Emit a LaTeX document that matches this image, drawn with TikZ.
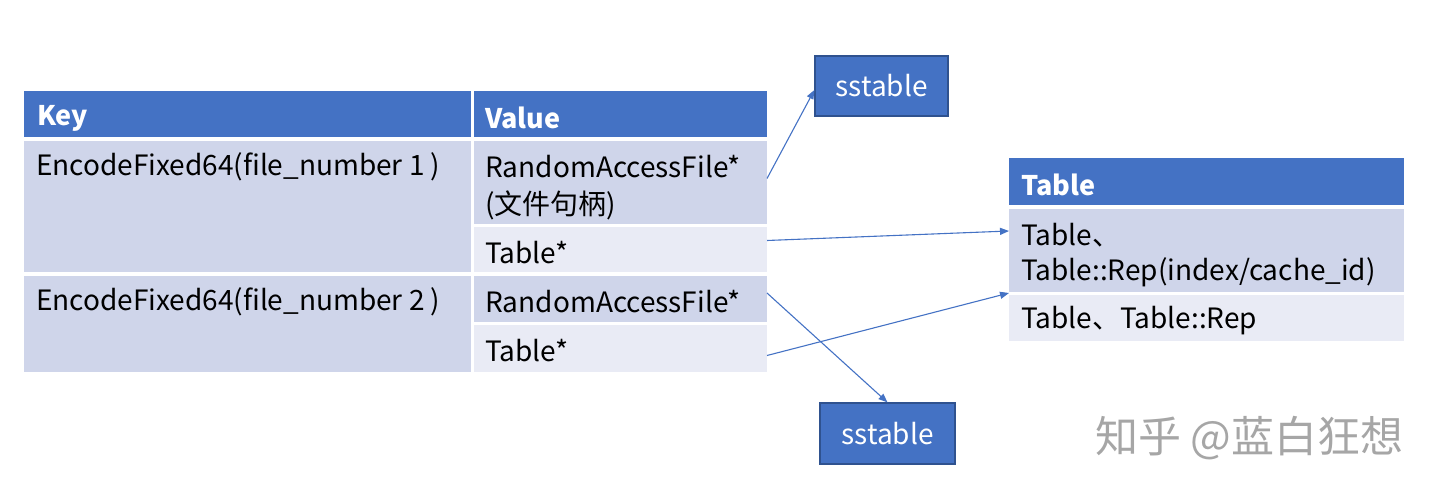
\documentclass[tikz,border=0pt]{standalone}
\usepackage{fontspec}
\setmainfont{Noto Sans CJK SC}
\usetikzlibrary{arrows.meta}
\definecolor{hdr}{HTML}{4472C4}
\definecolor{hdrdark}{HTML}{2F528F}
\definecolor{rowdark}{HTML}{CFD5EA}
\definecolor{rowlight}{HTML}{E9EBF5}
\definecolor{wm}{HTML}{A6A6A6}
\tikzset{
  cell/.style={anchor=north west, inner sep=0pt, outer sep=0pt, draw=none},
  hcell/.style={cell, fill=hdr},
  dcell/.style={cell, fill=rowdark},
  lcell/.style={cell, fill=rowlight},
  txt/.style={anchor=west, inner sep=0pt, yshift=-2pt, font=\fontsize{28}{32}\selectfont, text=black},
  htxt/.style={txt, text=white, font=\fontsize{27}{32}\selectfont\bfseries},
  sbox/.style={fill=hdr, draw=hdrdark, line width=1.2pt, inner sep=0pt, text=white,
    font=\fontsize{28}{32}\selectfont},
  conn/.style={draw=hdr, line width=1.1pt, -{Triangle[length=9pt,width=7pt]}}
}
\begin{document}
\begin{tikzpicture}[x=1pt,y=-1pt]
\useasboundingbox (0,0) rectangle (1440,497);
% main table
\node[hcell, minimum width=447pt, minimum height=46pt] (hk) at (24,91) {};
\node[hcell, minimum width=293pt, minimum height=46pt] (hv) at (474,91) {};
\node[dcell, minimum width=447pt, minimum height=131pt] (k1) at (24,141) {};
\node[dcell, minimum width=293pt, minimum height=83pt] (v1) at (474,141) {};
\node[lcell, minimum width=293pt, minimum height=45pt] (t1) at (474,227) {};
\node[dcell, minimum width=447pt, minimum height=96pt] (k2) at (24,276) {};
\node[dcell, minimum width=293pt, minimum height=46pt] (v2) at (474,276) {};
\node[lcell, minimum width=293pt, minimum height=47pt] (t2) at (474,325) {};
\node[htxt] (hkt) at (37,116) {Key};
\node[htxt] (hvt) at (485,116) {Value};
\node[txt] (k1t) at (36,165) {EncodeFixed64(file\_number 1 )};
\node[txt] (v1t) at (485,165) {RandomAccessFile*};
\node[txt] (v1u) at (485,203) {(文件句柄)};
\node[txt] (t1t) at (485,251) {Table*};
\node[txt] (k2t) at (36,300) {EncodeFixed64(file\_number 2 )};
\node[txt] (v2t) at (485,300) {RandomAccessFile*};
\node[txt] (t2t) at (485,349) {Table*};
% right table
\node[hcell, minimum width=395pt, minimum height=47pt] (rh) at (1009,158) {};
\node[dcell, minimum width=395pt, minimum height=83pt] (r1) at (1009,209) {};
\node[lcell, minimum width=395pt, minimum height=46pt] (r2) at (1009,295) {};
\node[htxt] (rht) at (1021,183) {Table};
\node[txt] (r1t) at (1021,233) {Table、};
\node[txt] (r1u) at (1021,270) {Table::Rep(index/cache\_id)};
\node[txt] (r2t) at (1021,319) {Table、Table::Rep};
% sstable boxes
\node[sbox, minimum width=133pt, minimum height=60pt] (s1) at (881.5,86) {sstable};
\node[sbox, minimum width=135pt, minimum height=61pt] (s2) at (887.5,433.5) {sstable};
% connectors
\draw[conn] ([yshift=4pt]v1.east) -- ([yshift=-4pt]s1.west);
\draw[conn] ([yshift=9pt]t1.east) -- ([yshift=-22pt]r1.north west);
\draw[conn] ([yshift=6pt]v2.east) -- (s2.north);
\draw[conn] ([yshift=-7pt]t2.east) -- ([yshift=2pt]r2.north west);
% watermark
\node[anchor=west, inner sep=0pt, text=wm, font=\fontsize{43}{48}\selectfont] (wmk) at (1095,438) {知乎 @蓝白狂想};
\end{tikzpicture}
\end{document}
